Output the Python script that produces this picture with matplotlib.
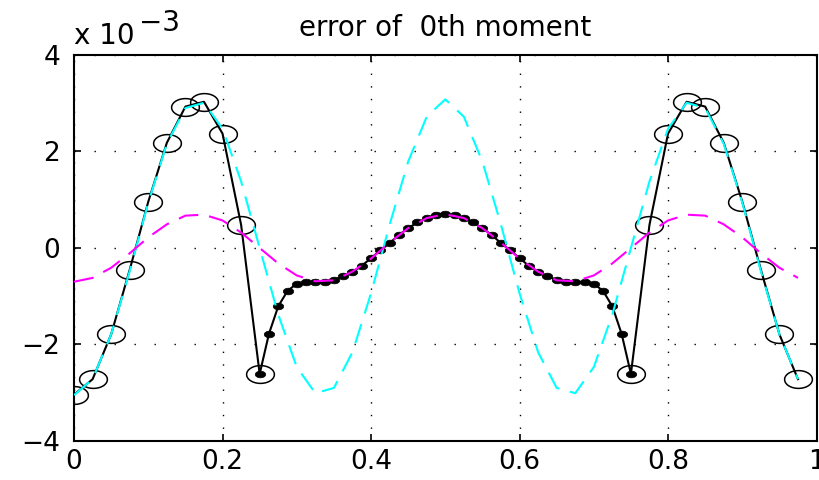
import numpy as np
import matplotlib
matplotlib.use("Agg")
import matplotlib.pyplot as plt

# error values, in units of 1e-3
# coarse grid points (open circles), outer parts of the interval
x_circ_left  = [0.0, 0.025, 0.05, 0.075, 0.1, 0.125, 0.15, 0.175, 0.2, 0.225, 0.25]
y_circ_left  = [-3.04, -2.72, -1.79, -0.45, 0.96, 2.18, 2.93, 3.03, 2.37, 0.48, -2.61]
x_circ_right = [0.75, 0.775, 0.8, 0.825, 0.85, 0.875, 0.9, 0.925, 0.95, 0.975]
y_circ_right = [-2.61, 0.48, 2.37, 3.03, 2.93, 2.18, 0.96, -0.45, -1.79, -2.72]

# fine grid points (filled dots), middle part
x_fine = [0.25, 0.2625, 0.275, 0.2875, 0.3, 0.3125, 0.325, 0.3375, 0.35, 0.3625,
          0.375, 0.3875, 0.4, 0.4125, 0.425, 0.4375, 0.45, 0.4625, 0.475, 0.4875,
          0.5, 0.5125, 0.525, 0.5375, 0.55, 0.5625, 0.575, 0.5875, 0.6, 0.6125,
          0.625, 0.6375, 0.65, 0.6625, 0.675, 0.6875, 0.7, 0.7125, 0.725, 0.7375,
          0.75]
y_fine = [-2.61, -1.78, -1.21, -0.89, -0.74, -0.71, -0.71, -0.70, -0.66, -0.59,
          -0.50, -0.37, -0.21, -0.05, 0.10, 0.27, 0.41, 0.53, 0.62, 0.68,
          0.70, 0.68, 0.62, 0.53, 0.41, 0.27, 0.10, -0.05, -0.21, -0.37,
          -0.50, -0.59, -0.66, -0.70, -0.71, -0.71, -0.74, -0.89, -1.21, -1.78,
          -2.61]

# reference curves on the uniform grid
x_uni = [0.0, 0.025, 0.05, 0.075, 0.1, 0.125, 0.15, 0.175, 0.2, 0.225,
         0.25, 0.275, 0.3, 0.325, 0.35, 0.375, 0.4, 0.425, 0.45, 0.475,
         0.5, 0.525, 0.55, 0.575, 0.6, 0.625, 0.65, 0.675, 0.7, 0.725,
         0.75, 0.775, 0.8, 0.825, 0.85, 0.875, 0.9, 0.925, 0.95, 0.975]
y_cyan = [-3.05, -2.72, -1.79, -0.48, 0.94, 2.16, 2.90, 3.01, 2.47, 1.38,
          0.00, -1.38, -2.47, -3.01, -2.90, -2.16, -0.94, 0.48, 1.79, 2.72,
          3.08, 2.72, 1.79, 0.48, -0.94, -2.16, -2.90, -3.01, -2.47, -1.38,
          0.00, 1.38, 2.47, 3.01, 2.90, 2.16, 0.94, -0.48, -1.79, -2.72]
y_mag = [-0.70, -0.62, -0.41, -0.11, 0.22, 0.49, 0.67, 0.69, 0.57, 0.32,
         0.00, -0.32, -0.57, -0.69, -0.67, -0.49, -0.22, 0.11, 0.41, 0.62,
         0.70, 0.62, 0.41, 0.11, -0.22, -0.49, -0.67, -0.69, -0.57, -0.32,
         0.00, 0.32, 0.57, 0.69, 0.67, 0.49, 0.22, -0.11, -0.41, -0.62]

x_ticks = [0, 0.2, 0.4, 0.6, 0.8, 1]
x_ticklabels = ["0", "0.2", "0.4", "0.6", "0.8", "1"]
y_ticks = [-4, -2, 0, 2, 4]
y_ticklabels = ["\u22124", "\u22122", "0", "2", "4"]

FS = 19
plt.rcParams["font.family"] = ["DejaVu Sans"]

# flattened ellipse used for the markers
t = np.linspace(0, 2 * np.pi, 64)
ellipse = np.column_stack([np.cos(t), 0.64 * np.sin(t)])

fig = plt.figure(figsize=(8.19, 4.8), dpi=100)
ax = fig.add_axes([0.0904, 0.0813, 0.9066, 0.8042])

x_line = x_circ_left[:-1] + x_fine + x_circ_right[1:]
y_line = y_circ_left[:-1] + y_fine + y_circ_right[1:]
ax.plot(x_line, y_line, color="black", lw=1.5, zorder=3)
ax.plot(x_circ_left + x_circ_right, y_circ_left + y_circ_right, ls="none",
        marker=ellipse, ms=20, mfc="none", mec="black", mew=1.1, zorder=4)
ax.plot(x_fine, y_fine, ls="none", marker=ellipse, ms=7.5,
        mfc="black", mec="black", mew=0.5, zorder=4)

ax.plot(x_uni, y_cyan, color="#00ffff", lw=1.5, ls=(0, (9.6, 5.3)), zorder=5)
ax.plot(x_uni, y_mag, color="#ff00ff", lw=1.5, ls=(0, (9.6, 5.3)), zorder=6)

ax.set_xlim(0, 1)
ax.set_ylim(-4, 4)
ax.set_xticks(x_ticks)
ax.set_xticklabels(x_ticklabels, fontsize=FS)
ax.set_yticks(y_ticks)
ax.set_yticklabels(y_ticklabels, fontsize=FS)
ax.tick_params(direction="in", length=5, width=1.2, top=True, right=True)
ax.tick_params(axis="x", pad=5.5)
ax.tick_params(axis="y", pad=10)

# dotted grid, dots packed tighter on the vertical lines
ax.xaxis.grid(True, color="black", lw=1.0, ls=(0, (1, 8.1)))
ax.yaxis.grid(True, color="black", lw=1.0, ls=(0, (1, 13.4)))

for s in ax.spines.values():
    s.set_linewidth(1.5)

ax.set_title("error of  0th moment", fontsize=FS + 1, pad=14)

# exponent label
fig.text(74 / 819, 1 - 44 / 480, "x 10", fontsize=FS + 1, ha="left", va="baseline")
fig.text(139 / 819, 1 - 31 / 480, "\u22123", fontsize=FS + 1, ha="left", va="baseline")

fig.savefig("out.png", dpi=100)
